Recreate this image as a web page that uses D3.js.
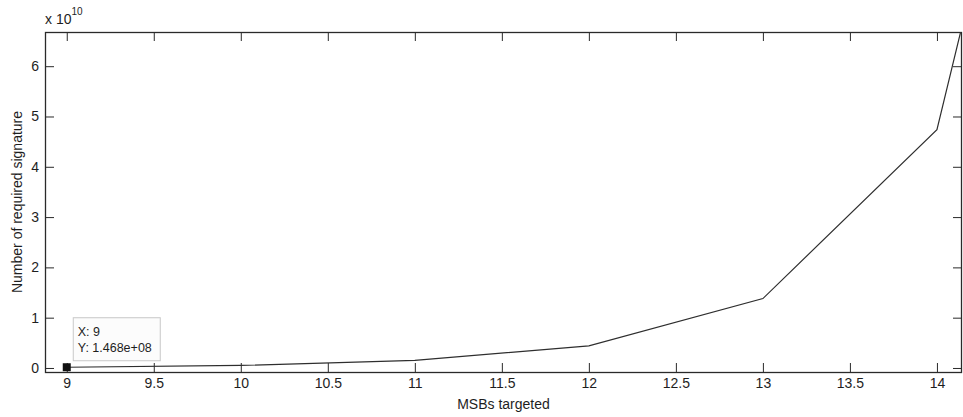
<!DOCTYPE html>
<html>
<head>
<meta charset="utf-8">
<script src="https://cdn.jsdelivr.net/npm/d3@7"></script>
<style>
  body { margin: 0; background: #fff; }
  #container { width: 963px; height: 417px; }
  text { font-family: "Liberation Sans", Arial, sans-serif; fill: #1e1e1e; }
</style>
</head>
<body>
<div id="container"></div>
<script>
// data
var msbs = [9, 10, 11, 12, 13, 14, 15];
var signatures = [1.468e8, 5.0e8, 1.5e9, 4.4e9, 1.38e10, 4.74e10, 1.9e11];
var xTicks = [9, 9.5, 10, 10.5, 11, 11.5, 12, 12.5, 13, 13.5, 14];
var yTicks = [0, 1e10, 2e10, 3e10, 4e10, 5e10, 6e10];
var yTickLabels = ["0", "1", "2", "3", "4", "5", "6"];
var tip = { x: 9, y: 1.468e8, lines: ["X: 9", "Y: 1.468e+08"] };

// note: "top" is reserved on window, so use a box object
var box = { left: 45, right: 962, top: 32, bottom: 372 };

var svg = d3.select("#container").append("svg")
    .attr("width", 963)
    .attr("height", 417);

var x = d3.scaleLinear().domain([8.875, 14.144]).range([box.left, box.right]);
var y = d3.scaleLinear().domain([-0.08e10, 6.68e10]).range([box.bottom, box.top]);

svg.append("defs").append("clipPath").attr("id", "plotclip")
    .append("rect")
    .attr("x", box.left).attr("y", box.top)
    .attr("width", box.right - box.left).attr("height", box.bottom - box.top);

// axes, ticks pointing inward like matlab
function styleAxis(g) {
    g.selectAll(".domain").remove();
    g.selectAll(".tick line").attr("stroke", "#2a2a2a");
    g.selectAll(".tick text")
        .style("font-family", '"Liberation Sans", Arial, sans-serif')
        .style("font-size", "14px")
        .attr("fill", "#1e1e1e");
}

svg.append("g")
    .attr("transform", `translate(0,${box.bottom})`)
    .call(d3.axisBottom(x).tickValues(xTicks).tickSize(-9).tickPadding(6).tickFormat(d3.format("")))
    .call(styleAxis);

svg.append("g")
    .attr("transform", `translate(0,${box.top})`)
    .call(d3.axisTop(x).tickValues(xTicks).tickSize(-9).tickFormat(""))
    .call(styleAxis);

svg.append("g")
    .attr("transform", `translate(${box.left},0)`)
    .call(d3.axisLeft(y).tickValues(yTicks).tickSize(-9).tickPadding(6)
        .tickFormat((d, i) => yTickLabels[i]))
    .call(styleAxis);

svg.append("g")
    .attr("transform", `translate(${box.right},0)`)
    .call(d3.axisRight(y).tickValues(yTicks).tickSize(-9).tickFormat(""))
    .call(styleAxis);

// frame
svg.append("rect")
    .attr("x", box.left + 0.5).attr("y", box.top + 0.5)
    .attr("width", box.right - box.left - 1).attr("height", box.bottom - box.top)
    .attr("fill", "none")
    .attr("stroke", "#2a2a2a")
    .attr("stroke-width", 1.3);

// the curve
var line = d3.line()
    .x((d, i) => x(msbs[i]))
    .y(d => y(d));

svg.append("path")
    .datum(signatures)
    .attr("clip-path", "url(#plotclip)")
    .attr("d", line)
    .attr("fill", "none")
    .attr("stroke", "#2e2e2e")
    .attr("stroke-width", 1.2);

// exponent label
var expo = svg.append("text")
    .attr("x", box.left)
    .attr("y", 24)
    .style("font-size", "14px");
expo.append("tspan").text("x 10");
expo.append("tspan").attr("dy", -9).style("font-size", "10px").text("10");

// axis labels
svg.append("text")
    .attr("x", (box.left + box.right) / 2)
    .attr("y", 409)
    .attr("text-anchor", "middle")
    .style("font-size", "14px")
    .text("MSBs targeted");

svg.append("text")
    .attr("transform", `translate(22,${(box.top + box.bottom) / 2}) rotate(-90)`)
    .attr("text-anchor", "middle")
    .style("font-size", "14px")
    .text("Number of required signature");

// data tip
var tx = x(tip.x), ty = y(tip.y);
svg.append("rect")
    .attr("x", tx + 6.5).attr("y", ty - 49.5)
    .attr("width", 87).attr("height", 43)
    .attr("fill", "#fcfcfc")
    .attr("stroke", "#c8c8c8");

svg.selectAll("text.tip")
    .data(tip.lines)
    .enter().append("text")
    .attr("class", "tip")
    .attr("x", tx + 11)
    .attr("y", (d, i) => ty - 31 + i * 16)
    .style("font-size", "12.5px")
    .text(d => d);

svg.append("rect")
    .attr("x", tx - 4).attr("y", ty - 4)
    .attr("width", 8).attr("height", 8)
    .attr("fill", "#111");
</script>
</body>
</html>
